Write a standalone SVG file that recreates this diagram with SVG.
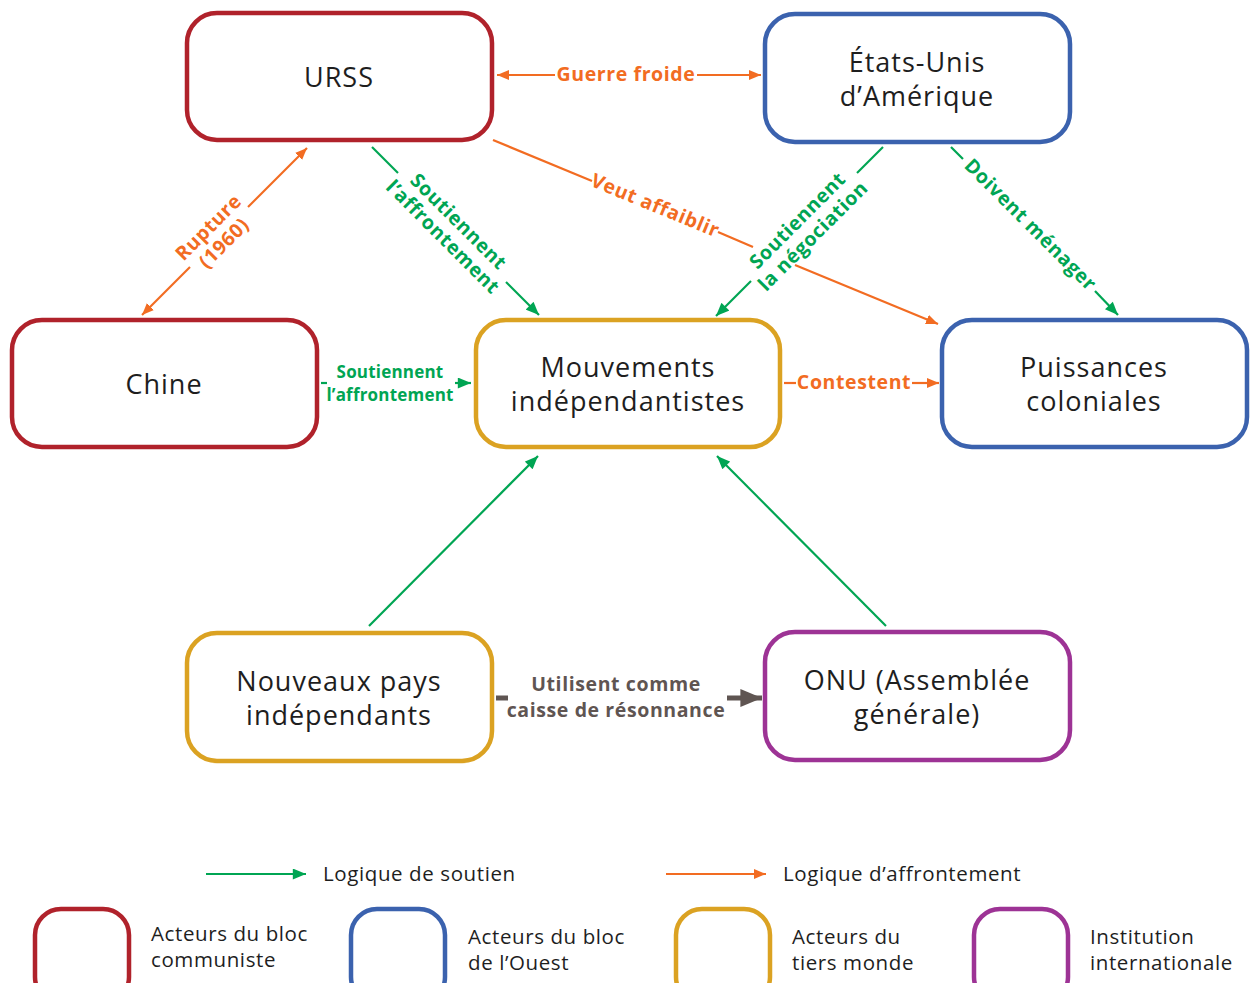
<svg xmlns="http://www.w3.org/2000/svg" width="1254" height="983" viewBox="0 0 1254 983">
<style>
.box{fill:#fff;stroke-width:4.5}
.red{stroke:#b0222b}.blue{stroke:#3b62ae}.yel{stroke:#dba222}.pur{stroke:#9d3395}
.nt{font-family:"Open Sans","Liberation Sans",sans-serif;font-size:27px;letter-spacing:1px;fill:#1e1e1e;text-anchor:middle}
.lg{font-family:"Open Sans","Liberation Sans",sans-serif;font-size:20.5px;letter-spacing:0.6px;fill:#1e1e1e}
.el{font-family:"Open Sans","Liberation Sans",sans-serif;font-weight:bold;font-size:19.5px;letter-spacing:0.6px;text-anchor:middle}
.og{fill:#f26c22}.gr{fill:#00a553}.br{fill:#5f5552}
.lo{stroke:#f26c22;stroke-width:2.2;fill:none}
.lgn{stroke:#00a553;stroke-width:2.2;fill:none}
.lbr{stroke:#5f5552;stroke-width:5;fill:none}
</style>
<defs>
<marker id="ao" viewBox="0 0 12 10" refX="12" refY="5" markerWidth="12" markerHeight="10" markerUnits="userSpaceOnUse" orient="auto-start-reverse"><path d="M0,0L12,5L0,10z" fill="#f26c22"/></marker>
<marker id="ag" viewBox="0 0 12 10" refX="12" refY="5" markerWidth="14" markerHeight="11" markerUnits="userSpaceOnUse" orient="auto"><path d="M0,0L12,5L0,10z" fill="#00a553"/></marker>
<marker id="ab" viewBox="0 0 12 10" refX="12" refY="5" markerWidth="22" markerHeight="18" markerUnits="userSpaceOnUse" orient="auto"><path d="M0,0L12,5L0,10z" fill="#5f5552"/></marker>
</defs>

<g id="connectors">
<!-- Guerre froide -->
<path class="lo" d="M497,75H555" marker-start="url(#ao)"/>
<path class="lo" d="M697,75H761" marker-end="url(#ao)"/>
<text class="el og" x="626" y="81">Guerre froide</text>
<!-- Rupture -->
<path class="lo" d="M190,267L142,315" marker-end="url(#ao)"/>
<path class="lo" d="M248,207L307,148" marker-end="url(#ao)"/>
<text class="el og" transform="translate(216,235) rotate(-45)"><tspan x="0" y="-4">Rupture</tspan><tspan x="0" y="18">(1960)</tspan></text>
<!-- URSS -> Mouvements -->
<path class="lgn" d="M372,147L398,173"/>
<path class="lgn" d="M506,282L539,315" marker-end="url(#ag)"/>
<text class="el gr" transform="translate(451,229) rotate(45)"><tspan x="0" y="-4">Soutiennent</tspan><tspan x="0" y="18">l’affrontement</tspan></text>
<!-- Veut affaiblir -->
<path class="lo" d="M493,140L592,181"/>
<path class="lo" d="M718,232L753,247"/>
<path class="lo" d="M795,265L938,324" marker-end="url(#ao)"/>
<text class="el og" transform="translate(655,206) rotate(22.4)" y="6">Veut affaiblir</text>
<!-- US -> Mouvements -->
<path class="lgn" d="M883,147L857,173"/>
<path class="lgn" d="M751,281L716,316" marker-end="url(#ag)"/>
<text class="el gr" transform="translate(805,228) rotate(-45)"><tspan x="0" y="-4">Soutiennent</tspan><tspan x="0" y="18">la négociation</tspan></text>
<!-- US -> Puissances -->
<path class="lgn" d="M951,147L963,159"/>
<path class="lgn" d="M1095,291L1118,315" marker-end="url(#ag)"/>
<text class="el gr" transform="translate(1030,225) rotate(45)" y="6">Doivent ménager</text>
<!-- Chine -> Mouvements -->
<path class="lgn" d="M321,383H327"/>
<path class="lgn" d="M455,383H471" marker-end="url(#ag)"/>
<text class="el gr" style="font-size:17px;letter-spacing:0.2px" x="390" y="378">Soutiennent</text>
<text class="el gr" style="font-size:17px;letter-spacing:0.2px" x="390" y="401">l’affrontement</text>
<!-- Contestent -->
<path class="lo" d="M784,383H796"/>
<path class="lo" d="M912,383H939" marker-end="url(#ao)"/>
<text class="el og" x="854" y="389">Contestent</text>
<!-- Nouveaux pays -> Mouvements -->
<path class="lgn" d="M369,626L538,456" marker-end="url(#ag)"/>
<!-- ONU -> Mouvements -->
<path class="lgn" d="M886,626L717,456" marker-end="url(#ag)"/>
<!-- Nouveaux pays -> ONU -->
<path class="lbr" d="M496,698H508"/>
<path class="lbr" d="M727,698H762" marker-end="url(#ab)"/>
<text class="el br" x="616" y="691">Utilisent comme</text>
<text class="el br" x="616" y="717">caisse de résonnance</text>
</g>

<g id="urss"><rect class="box red" x="187" y="13" width="305" height="127" rx="30"/><text class="nt" x="339" y="87">URSS</text></g>
<g id="usa"><rect class="box blue" x="765" y="14" width="305" height="128" rx="30"/><text class="nt" x="917" y="72">États-Unis</text><text class="nt" x="917" y="106">d’Amérique</text></g>
<g id="chine"><rect class="box red" x="12" y="320" width="305" height="127" rx="30"/><text class="nt" x="164" y="394">Chine</text></g>
<g id="mouvements"><rect class="box yel" x="476" y="320" width="304" height="127" rx="30"/><text class="nt" x="628" y="377">Mouvements</text><text class="nt" x="628" y="411">indépendantistes</text></g>
<g id="puissances"><rect class="box blue" x="942" y="320" width="305" height="127" rx="30"/><text class="nt" x="1094" y="377">Puissances</text><text class="nt" x="1094" y="411">coloniales</text></g>
<g id="nouveaux"><rect class="box yel" x="187" y="633" width="305" height="128" rx="30"/><text class="nt" x="339" y="691">Nouveaux pays</text><text class="nt" x="339" y="725">indépendants</text></g>
<g id="onu"><rect class="box pur" x="765" y="632" width="305" height="128" rx="30"/><text class="nt" x="917" y="690">ONU (Assemblée</text><text class="nt" x="917" y="724">générale)</text></g>

<g id="legend">
<path class="lgn" d="M206,874H306" marker-end="url(#ag)"/>
<text class="lg" x="323" y="881">Logique de soutien</text>
<path class="lo" d="M666,874H766" marker-end="url(#ao)"/>
<text class="lg" x="783" y="881">Logique d’affrontement</text>
<rect class="box red" x="35" y="909" width="94" height="94" rx="26"/>
<text class="lg" x="151" y="941">Acteurs du bloc</text><text class="lg" x="151" y="967">communiste</text>
<rect class="box blue" x="351" y="909" width="94" height="94" rx="26"/>
<text class="lg" x="468" y="944">Acteurs du bloc</text><text class="lg" x="468" y="970">de l’Ouest</text>
<rect class="box yel" x="676" y="909" width="94" height="94" rx="26"/>
<text class="lg" x="792" y="944">Acteurs du</text><text class="lg" x="792" y="970">tiers monde</text>
<rect class="box pur" x="974" y="909" width="94" height="94" rx="26"/>
<text class="lg" x="1090" y="944">Institution</text><text class="lg" x="1090" y="970">internationale</text>
</g>
</svg>
